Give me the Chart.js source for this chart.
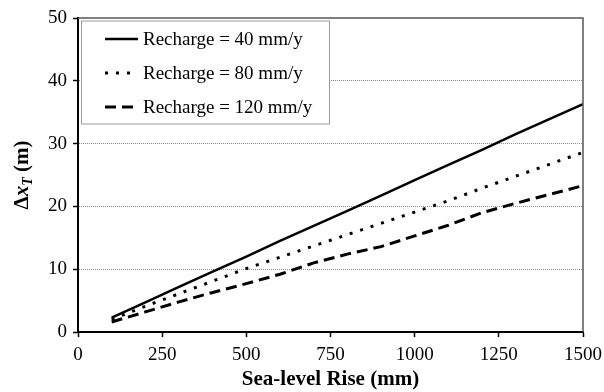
<!DOCTYPE html>
<html>
<head>
<meta charset="utf-8">
<script src="https://cdn.jsdelivr.net/npm/chart.js@4/dist/chart.umd.min.js"></script>
<style>
  html, body { margin: 0; padding: 0; background: #fff; }
  #wrap { width: 604px; height: 392px; }
</style>
</head>
<body>
<div id="wrap"><canvas id="chart" width="604" height="392"></canvas></div>
<script>
// Veriler
const seaLevelRise = [100, 200, 300, 400, 500, 600, 700, 800, 900, 1000, 1100, 1200, 1300, 1400, 1500];
const recharge40 = [2.3, 4.7, 7.2, 9.6, 12.0, 14.5, 16.9, 19.3, 21.7, 24.2, 26.6, 29.0, 31.5, 33.9, 36.3];
const recharge80 = [2.0, 4.1, 6.1, 8.1, 10.1, 11.9, 13.7, 15.5, 17.3, 19.1, 20.9, 22.9, 24.8, 26.7, 28.6];
const recharge120 = [1.6, 3.2, 4.8, 6.3, 7.7, 9.2, 11.0, 12.4, 13.6, 15.3, 17.0, 19.0, 20.5, 21.9, 23.3];
const seriesLabels = ['Recharge = 40 mm/y', 'Recharge = 80 mm/y', 'Recharge = 120 mm/y'];
const xTicks = [0, 250, 500, 750, 1000, 1250, 1500];
const yTicks = [0, 10, 20, 30, 40, 50];

const serif = '"Liberation Serif", "Times New Roman", serif';

function toPoints(values) {
    return seaLevelRise.map((x, i) => ({ x: x, y: values[i] }));
}

// Grafik alanı çerçevesi (üst ve sağ kenar)
const framePlugin = {
    id: 'frame',
    afterDraw(chart) {
        const { ctx, chartArea: a } = chart;
        ctx.save();
        ctx.strokeStyle = '#555';
        ctx.lineWidth = 1.5;
        ctx.beginPath();
        ctx.moveTo(a.left, a.top);
        ctx.lineTo(a.right, a.top);
        ctx.lineTo(a.right, a.bottom);
        ctx.stroke();
        ctx.restore();
    }
};

// Grafik içindeki lejant kutusu
const boxLegendPlugin = {
    id: 'boxLegend',
    afterDraw(chart) {
        const { ctx } = chart;
        const left = 81, top = 20.5, width = 248, height = 103;
        ctx.save();
        ctx.fillStyle = '#fff';
        ctx.fillRect(left, top, width, height);
        ctx.strokeStyle = '#999';
        ctx.lineWidth = 1;
        ctx.strokeRect(left + 0.5, top + 0.5, width, height);
        ctx.font = '19px ' + serif;
        ctx.fillStyle = '#000';
        ctx.textBaseline = 'middle';
        chart.data.datasets.forEach((ds, i) => {
            const y = 39 + i * 34;
            ctx.beginPath();
            ctx.lineWidth = ds.borderWidth;
            ctx.strokeStyle = ds.borderColor;
            ctx.setLineDash(ds.borderDash || []);
            ctx.moveTo(105, y);
            ctx.lineTo(138, y);
            ctx.stroke();
            ctx.setLineDash([]);
            ctx.fillText(ds.label, 143, y + 1);
        });
        ctx.restore();
    }
};

// Y ekseni başlığı: Δx_T (m)
const yTitlePlugin = {
    id: 'yTitle',
    afterDraw(chart) {
        const { ctx } = chart;
        const parts = [
            { t: 'Δ', f: 'bold 21px ' + serif, dy: 0 },
            { t: 'x', f: 'bold italic 21px ' + serif, dy: 0 },
            { t: 'T', f: 'bold italic 14px ' + serif, dy: 4 },
            { t: ' (m)', f: 'bold 21px ' + serif, dy: 0 }
        ];
        ctx.save();
        let total = 0;
        parts.forEach(p => { ctx.font = p.f; p.w = ctx.measureText(p.t).width; total += p.w; });
        ctx.translate(28, 175);
        ctx.rotate(-Math.PI / 2);
        ctx.fillStyle = '#000';
        ctx.textBaseline = 'alphabetic';
        let x = -total / 2;
        parts.forEach(p => {
            ctx.font = p.f;
            ctx.fillText(p.t, x, p.dy);
            x += p.w;
        });
        ctx.restore();
    }
};

const ctx = document.getElementById('chart');
new Chart(ctx, {
    type: 'line',
    data: {
        datasets: [
            {
                label: seriesLabels[0],
                data: toPoints(recharge40),
                borderColor: '#000',
                borderWidth: 2.5,
                borderDash: [],
                pointRadius: 0
            },
            {
                label: seriesLabels[1],
                data: toPoints(recharge80),
                borderColor: '#000',
                borderWidth: 3,
                borderDash: [3, 8],
                pointRadius: 0
            },
            {
                label: seriesLabels[2],
                data: toPoints(recharge120),
                borderColor: '#000',
                borderWidth: 3,
                borderDash: [11, 6],
                pointRadius: 0
            }
        ]
    },
    options: {
        responsive: false,
        animation: false,
        layout: { padding: { left: 0, right: 21, top: 18, bottom: 0 } },
        plugins: {
            legend: { display: false },
            tooltip: { enabled: false }
        },
        scales: {
            x: {
                type: 'linear',
                min: 0,
                max: 1500,
                afterBuildTicks: scale => { scale.ticks = xTicks.map(v => ({ value: v })); },
                afterFit: scale => {
                    scale.height = 60;
                    scale.paddingLeft = 0;
                    scale.paddingRight = 0;
                },
                ticks: {
                    color: '#000',
                    font: { family: serif, size: 19 },
                    padding: 7,
                    maxRotation: 0,
                    callback: v => String(v)
                },
                grid: {
                    drawOnChartArea: false,
                    drawTicks: true,
                    tickLength: 5,
                    tickColor: '#000',
                    tickWidth: 1.5
                },
                border: { color: '#000', width: 2 },
                title: {
                    display: true,
                    text: 'Sea-level Rise (mm)',
                    color: '#000',
                    font: { family: serif, size: 21, weight: 'bold' },
                    padding: { top: 0, bottom: 0 }
                }
            },
            y: {
                min: 0,
                max: 50,
                afterBuildTicks: scale => { scale.ticks = yTicks.map(v => ({ value: v })); },
                afterFit: scale => {
                    scale.width = 78;
                    scale.paddingTop = 0;
                    scale.paddingBottom = 0;
                },
                ticks: {
                    color: '#000',
                    font: { family: serif, size: 19 },
                    padding: 6,
                    callback: v => String(v)
                },
                grid: {
                    color: c => (c.tick && (c.tick.value === 0 || c.tick.value === 50)) ? 'rgba(0,0,0,0)' : '#8a8a8a',
                    lineWidth: 1,
                    drawTicks: true,
                    tickLength: 5,
                    tickColor: '#000',
                    tickWidth: 1.5
                },
                border: { color: '#000', width: 2, dash: [1, 1] }
            }
        }
    },
    plugins: [framePlugin, boxLegendPlugin, yTitlePlugin]
});
</script>
</body>
</html>
